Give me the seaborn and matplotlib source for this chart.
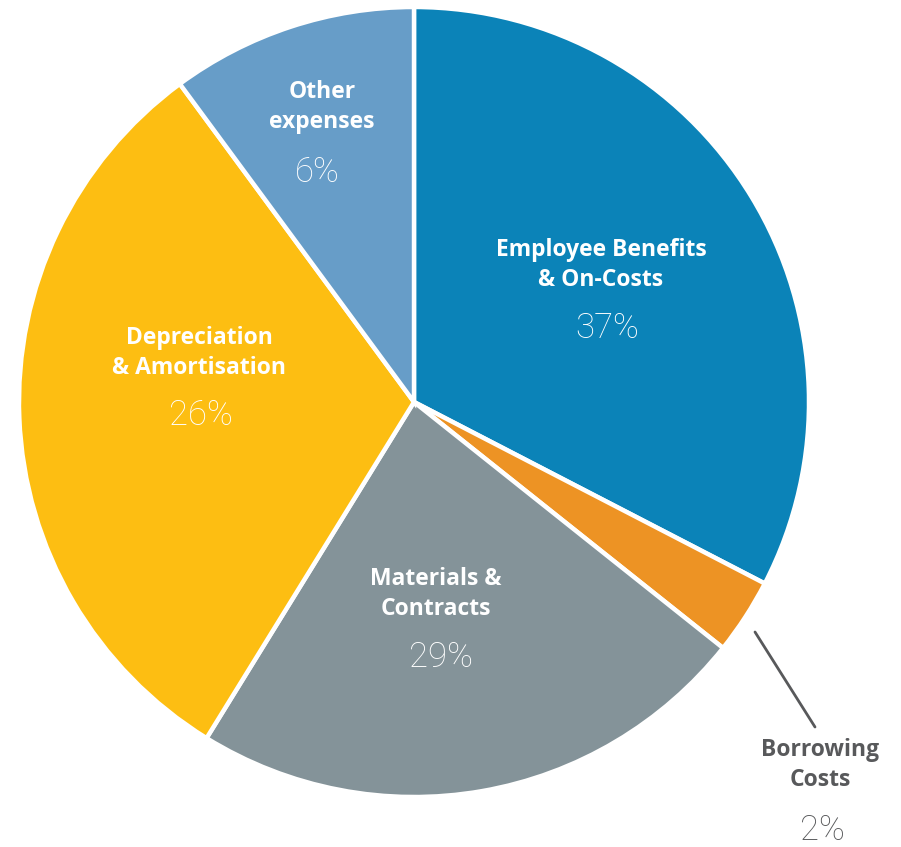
import matplotlib
matplotlib.use("Agg")
import matplotlib.pyplot as plt
import seaborn as sns

# Slice shares as drawn in the picture (the printed labels differ)
categories = ["Employee Benefits\n& On-Costs", "Borrowing\nCosts", "Materials &\nContracts",
              "Depreciation\n& Amortisation", "Other\nexpenses"]
shares = [32.6, 3.1, 23.1, 31.1, 10.1]
pct_labels = ["37%", "2%", "29%", "26%", "6%"]
colors = ["#0B83B8", "#ED9324", "#849399", "#FDBE12", "#679DC8"]

# Label positions in pixel coordinates (x, y from top) for name and percent
name_pos = [(601, 265), (820, 765), (436, 594), (199, 353), (322, 107)]
pct_pos = [(607, 328), (822, 830), (441, 657), (201, 415), (317, 172)]

sns.set_theme(style="white")
plt.rcParams['font.family'] = ['Open Sans', 'DejaVu Sans']

W, H = 901, 847
fig = plt.figure(figsize=(W / 100, H / 100), dpi=100)
ax = fig.add_axes([0, 0, 1, 1])

ax.pie(shares, colors=sns.color_palette(colors), startangle=90, counterclock=False,
       center=(414, H - 402), radius=395, frame=True,
       wedgeprops=dict(edgecolor="white", linewidth=3.2))
ax.set_xlim(0, W)
ax.set_ylim(0, H)
ax.set_aspect("equal")
ax.axis("off")

for i, name in enumerate(categories):
    col = "#58595B" if i == 1 else "white"
    nx, ny = name_pos[i]
    px, py = pct_pos[i]
    ax.text(nx, H - ny, name, ha="center", va="center", color=col,
            fontsize=16.5, fontweight="bold", linespacing=1.38)
    ax.text(px, H - py, pct_labels[i], ha="center", va="center", color=col,
            fontsize=25, fontweight="light", family=["Roboto", "DejaVu Sans"])

# leader line for the small slice
ax.plot([755, 815], [H - 632, H - 727], color="#58595B", linewidth=2)

fig.savefig("out.png", dpi=100)
